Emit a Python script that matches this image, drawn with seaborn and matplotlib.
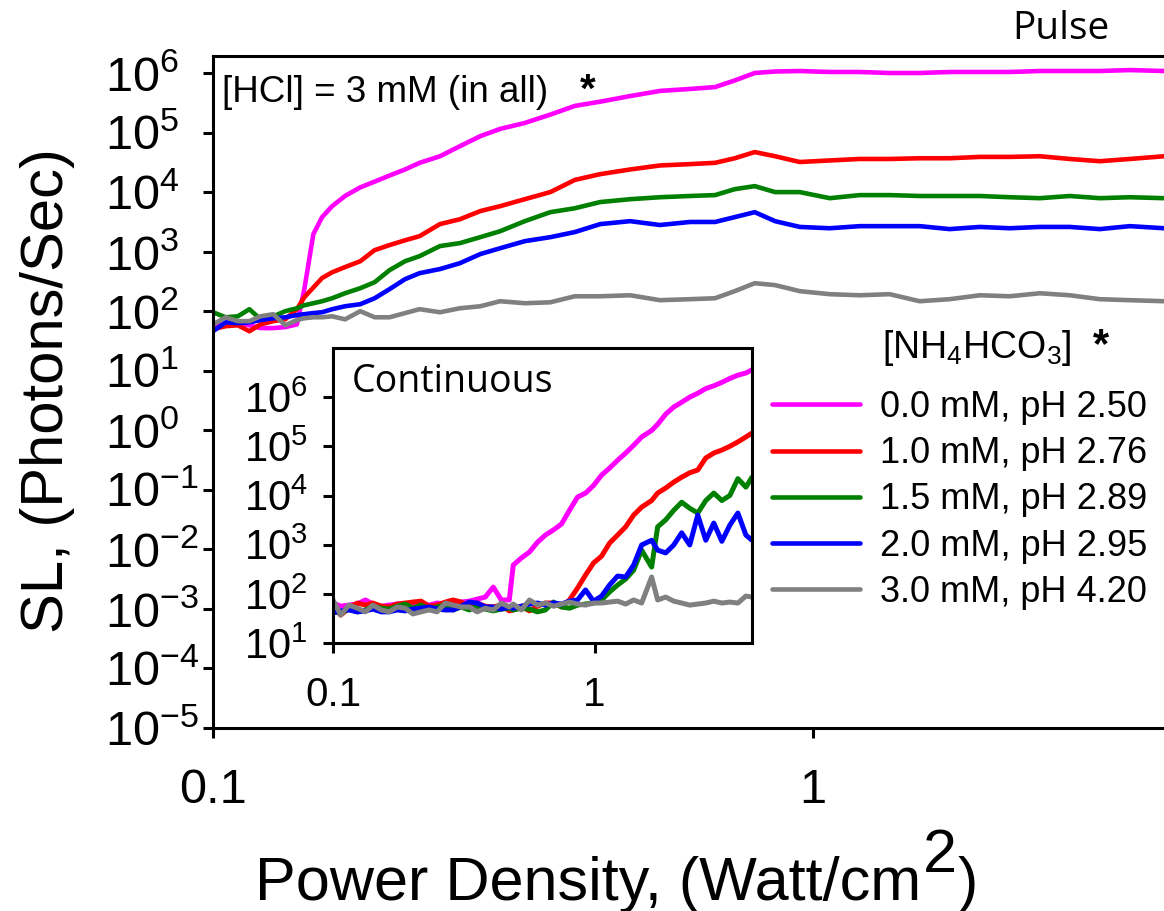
import matplotlib

matplotlib.use("Agg")
import matplotlib.pyplot as plt
import pandas as pd
import seaborn as sns
from matplotlib.ticker import NullLocator


# ---- data ----
SERIES = ["0.0 mM, pH 2.50", "1.0 mM, pH 2.76", "1.5 mM, pH 2.89", "2.0 mM, pH 2.95", "3.0 mM, pH 4.20"]
COLORS = ["#FF00FF", "#FF0000", "#008000", "#0000FF", "#808080"]

# pulse (main panel)
pulse_x = [0.100, 0.105, 0.110, 0.115, 0.120, 0.126, 0.132, 0.138, 0.142, 0.147, 0.152, 0.158,
           0.166, 0.176, 0.186, 0.197, 0.209, 0.221, 0.239, 0.258, 0.279, 0.301, 0.331, 0.365,
           0.401, 0.442, 0.496, 0.556, 0.624, 0.687, 0.741, 0.800, 0.865, 0.951, 1.067, 1.197,
           1.343, 1.507, 1.691, 1.898, 2.130, 2.390, 2.682, 3.009, 3.376, 3.85]
pulse_00 = [58, 60, 63, 58, 52, 52, 54, 60, 235, 1970, 3800, 5800, 8600, 1.2e4, 1.5e4, 1.9e4,
            2.4e4, 3.1e4, 4.0e4, 5.9e4, 8.7e4, 1.15e5, 1.45e5, 2.0e5, 2.8e5, 3.3e5, 4.1e5, 5.0e5,
            5.4e5, 5.8e5, 7.5e5, 1.0e6, 1.06e6, 1.08e6, 1.04e6, 1.04e6, 1.0e6, 1.0e6, 1.04e6,
            1.04e6, 1.04e6, 1.08e6, 1.08e6, 1.08e6, 1.12e6, 1.08e6]
pulse_10 = [50, 56, 58, 46, 60, 68, 73, 108, 172, 250, 360, 450, 550, 690, 1060, 1290, 1550, 1820,
            2900, 3500, 4800, 5800, 7600, 1.0e4, 1.6e4, 2.0e4, 2.4e4, 2.8e4, 2.95e4, 3.1e4, 3.7e4,
            4.7e4, 4.0e4, 3.2e4, 3.4e4, 3.6e4, 3.6e4, 3.7e4, 3.7e4, 3.9e4, 3.9e4, 4.0e4, 3.6e4,
            3.3e4, 3.6e4, 4.0e4]
pulse_15 = [96, 79, 82, 108, 73, 82, 100, 112, 126, 136, 147, 165, 200, 243, 307, 490, 690, 840,
            1240, 1390, 1750, 2200, 3250, 4600, 5350, 6800, 7600, 8200, 8600, 8900, 1.12e4, 1.26e4,
            1.0e4, 1.0e4, 7900, 8900, 8900, 8600, 8600, 8600, 8200, 7900, 8600, 7900, 8200, 7900]
pulse_20 = [46, 65, 63, 65, 71, 76, 79, 86, 89, 93, 96, 108, 121, 131, 165, 235, 345, 435, 510, 640,
            910, 1140, 1500, 1750, 2130, 2900, 3250, 2800, 3150, 3150, 3800, 4600, 3250, 2600, 2470,
            2680, 2680, 2680, 2390, 2600, 2470, 2600, 2600, 2390, 2680, 2470]
pulse_30 = [60, 79, 68, 68, 82, 89, 58, 71, 76, 79, 79, 82, 73, 100, 79, 79, 93, 108, 96, 112, 121,
            147, 136, 141, 178, 178, 185, 153, 159, 165, 217, 295, 274, 217, 193, 185, 193, 147, 159,
            185, 178, 200, 185, 159, 153, 147]

# continuous (inset)
cont_x = [0.100, 0.107, 0.115, 0.124, 0.133, 0.142, 0.153, 0.164, 0.176, 0.189, 0.202, 0.217, 0.233,
          0.250, 0.269, 0.288, 0.309, 0.332, 0.356, 0.382, 0.410, 0.440, 0.472, 0.489, 0.525, 0.564,
          0.605, 0.649, 0.697, 0.748, 0.802, 0.861, 0.924, 0.991, 1.064, 1.141, 1.225, 1.315, 1.411,
          1.514, 1.653, 1.743, 1.871, 2.008, 2.154, 2.312, 2.481, 2.663, 2.857, 3.067, 3.291, 3.532,
          3.790, 4.0]
cont_00 = [65, 56, 59, 62, 75, 62, 56, 59, 62, 59, 62, 65, 59, 65, 62, 65, 68, 71, 78, 86, 137, 75, 75,
           385, 535, 710, 1120, 1570, 2000, 2640, 5000, 9300, 1.12e4, 1.6e4, 2.6e4, 3.6e4, 5.2e4,
           7.3e4, 1.05e5, 1.55e5, 2.1e5, 2.8e5, 4.5e5, 6.3e5, 7.9e5, 1.0e6, 1.2e6, 1.5e6, 1.7e6,
           2.0e6, 2.4e6, 2.8e6, 3.1e6, 3.6e6]
cont_10 = [54, 37, 51, 65, 59, 65, 56, 54, 62, 65, 68, 71, 56, 59, 68, 75, 68, 56, 65, 56, 54, 59, 45,
           47, 56, 45, 56, 65, 65, 54, 75, 131, 241, 424, 585, 1070, 1570, 2300, 4000, 5800, 7900,
           1.12e4, 1.42e4, 1.87e4, 2.36e4, 2.9e4, 3.3e4, 5.8e4, 7.3e4, 8.4e4, 1.0e5, 1.23e5, 1.55e5,
           1.86e5]
cont_15 = [43, 41, 49, 43, 47, 56, 51, 49, 56, 62, 51, 59, 49, 54, 59, 47, 54, 47, 56, 49, 45, 49, 51,
           47, 51, 49, 43, 47, 68, 54, 51, 59, 62, 65, 75, 109, 151, 200, 303, 775, 350, 2300, 3200,
           5000, 7300, 5500, 4400, 7900, 1.12e4, 7900, 1.0e4, 2.2e4, 1.48e4, 2.36e4]
cont_20 = [41, 45, 47, 43, 45, 49, 43, 43, 47, 45, 49, 51, 54, 49, 47, 47, 56, 68, 65, 54, 54, 49, 54,
           51, 56, 62, 65, 59, 65, 62, 71, 75, 120, 71, 90, 151, 230, 220, 385, 985, 1230, 775, 680,
           985, 1740, 985, 4000, 1230, 2750, 1170, 2500, 4400, 1570, 1230]
cont_30 = [75, 37, 59, 51, 43, 59, 47, 43, 54, 51, 39, 43, 47, 43, 65, 59, 54, 54, 43, 51, 47, 65, 54,
           62, 47, 75, 59, 65, 56, 62, 68, 62, 59, 65, 65, 68, 71, 62, 75, 65, 220, 75, 86, 71, 65, 59,
           62, 65, 71, 65, 68, 65, 90, 86]

main_yticks = [1e-5, 1e-4, 1e-3, 1e-2, 1e-1, 1e0, 1e1, 1e2, 1e3, 1e4, 1e5, 1e6]
main_yexp = [-5, -4, -3, -2, -1, 0, 1, 2, 3, 4, 5, 6]
inset_yticks = [1e1, 1e2, 1e3, 1e4, 1e5, 1e6]
inset_yexp = [1, 2, 3, 4, 5, 6]
xticks = [0.1, 1]
xtick_labels = ["0.1", "1"]


def long_form(x, columns):
    df = pd.DataFrame({"x": x})
    for name, vals in zip(SERIES, columns):
        df[name] = vals
    return df.melt(id_vars="x", var_name="series", value_name="y")


def pow_labels(exps):
    return [rf"$\mathdefault{{10^{{{e}}}}}$" for e in exps]


def style_axis(ax, lw):
    for sp in ax.spines.values():
        sp.set_linewidth(lw)
        sp.set_color("black")
    ax.xaxis.set_minor_locator(NullLocator())
    ax.yaxis.set_minor_locator(NullLocator())


sns.set_theme(style="ticks")
plt.rcParams.update({
    "text.color": "black",
    "axes.labelcolor": "black",
    "xtick.color": "black",
    "ytick.color": "black",
    "mathtext.fontset": "custom",
    "mathtext.rm": "Liberation Sans",
    "mathtext.it": "Liberation Sans:italic",
    "mathtext.bf": "Liberation Sans:bold",
})
plt.rcParams["font.family"] = ["Liberation Sans", "DejaVu Sans"]

W, H = 1164, 911
fig = plt.figure(figsize=(W / 100, H / 100), dpi=100)
palette = dict(zip(SERIES, COLORS))

# ---- main (pulse) ----
ax = fig.add_axes([213 / W, (H - 728) / H, 961 / W, 672 / H])
ax.set_xscale("log")
ax.set_yscale("log")
pulse_df = long_form(pulse_x, [pulse_00, pulse_10, pulse_15, pulse_20, pulse_30])
sns.lineplot(data=pulse_df, x="x", y="y", hue="series", hue_order=SERIES, palette=palette,
             estimator=None, sort=False, linewidth=3.3, ax=ax)
ax.set_xlim(0.1, 4.0)
ax.set_ylim(1e-5, 1.93e6)
style_axis(ax, 2.2)
ax.set_xticks(xticks, xtick_labels)
ax.set_yticks(main_yticks, pow_labels(main_yexp), ha="left")
ax.tick_params(axis="x", bottom=True, direction="out", length=7, width=2.2, pad=22, labelsize=35)
ax.tick_params(axis="y", left=True, direction="out", length=7, width=2.2, pad=70.8, labelsize=35)

ax.set_ylabel("SL, (Photons/Sec)", fontsize=43, va="center")
ax.yaxis.set_label_coords(-0.1727, 0.5015)
ax.set_xlabel("Power Density, (Watt/cm", fontsize=44, ha="left", va="baseline")
ax.xaxis.set_label_coords(0.0437, -0.256)
xl = ax.xaxis.label
sup = ax.annotate("2", xy=(1, -0.256), xycoords=(xl, "axes fraction"), xytext=(1, 20),
                  textcoords="offset points", ha="left", va="baseline", fontsize=44)
ax.annotate(")", xy=(1, -0.256), xycoords=(sup, "axes fraction"), xytext=(1, 0),
            textcoords="offset points", ha="left", va="baseline", fontsize=44)

ax.text(0.0094, 0.9315, "[HCl] = 3 mM (in all)", transform=ax.transAxes, fontsize=26.5,
        ha="left", va="baseline")
ax.text(0.382, 0.9315, "*", transform=ax.transAxes, fontsize=29, fontweight="bold",
        ha="left", va="baseline")
fig.text(1109 / W, 1 - 39 / H, "Pulse", family=["Open Sans", "DejaVu Sans"], fontsize=28,
         ha="right", va="baseline")

handles, labels = ax.get_legend_handles_labels()
ax.legend(handles, labels, loc="upper left", bbox_to_anchor=(772 / W, 1 - 390 / H),
          bbox_transform=fig.transFigure, frameon=False, fontsize=26, handlelength=2.45,
          handletextpad=0.55, labelspacing=0.31, borderpad=0, borderaxespad=0)
fig.text(882 / W, 1 - 358 / H, r"[NH$_4$HCO$_3$]", fontsize=27, ha="left", va="baseline")
fig.text(1093 / W, 1 - 357 / H, "*", fontsize=30, fontweight="bold", ha="left", va="baseline")

# ---- inset (continuous) ----
ins = fig.add_axes([333 / W, (H - 643) / H, 419 / W, 295 / H])
ins.set_facecolor("white")
ins.set_xscale("log")
ins.set_yscale("log")
cont_df = long_form(cont_x, [cont_00, cont_10, cont_15, cont_20, cont_30])
sns.lineplot(data=cont_df, x="x", y="y", hue="series", hue_order=SERIES, palette=palette,
             estimator=None, sort=False, linewidth=3.6, legend=False, ax=ins)
ins.set_xlim(0.1, 4.0)
ins.set_ylim(10, 1e7)
style_axis(ins, 2.2)
ins.set_xticks(xticks, xtick_labels)
ins.set_yticks(inset_yticks, pow_labels(inset_yexp), ha="left")
ins.tick_params(axis="x", bottom=True, direction="out", length=7, width=2.2, pad=17, labelsize=29)
ins.tick_params(axis="y", left=True, direction="out", length=7, width=2.2, pad=57, labelsize=30)
ins.set_xlabel("")
ins.set_ylabel("")
ins.text(0.045, 0.851, "Continuous", transform=ins.transAxes, family=["Open Sans", "DejaVu Sans"],
         fontsize=27, ha="left", va="baseline")

fig.savefig("out.png", dpi=100)
